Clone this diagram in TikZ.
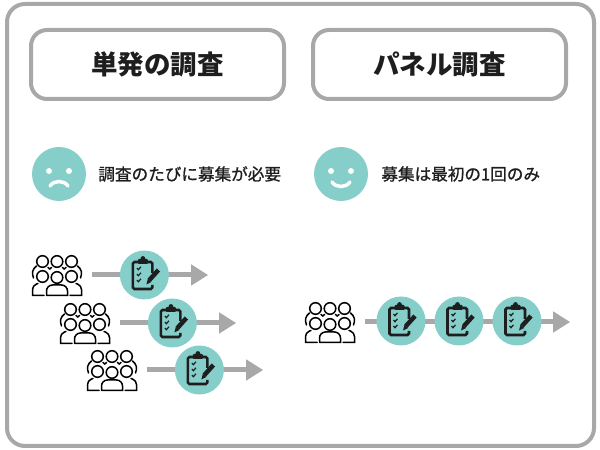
\documentclass[tikz,border=0pt]{standalone}
\usepackage{fontspec}
\setmainfont{Noto Sans CJK JP}
\newfontfamily\captionfont[FakeBold=1]{Noto Sans CJK JP}
\usetikzlibrary{arrows.meta, positioning}

\definecolor{frameGray}{HTML}{A8A8A8}
\definecolor{tealFill}{HTML}{85CEC9}
\definecolor{iconInk}{HTML}{1E1E1E}

\tikzset{
  titlebox/.style={draw=frameGray, line width=4pt, rounded corners=16pt, minimum width=253pt, minimum height=69pt, font=\bfseries\fontsize{26.5}{26.5}\selectfont, text=iconInk},
  face/.style={circle, fill=tealFill, minimum size=54pt, inner sep=0pt},
  caption/.style={font=\captionfont\fontsize{16.6}{16.6}\selectfont, text=iconInk, inner sep=0pt, anchor=west},
  crowd/.style={minimum width=70pt, minimum height=40pt, inner sep=0pt},
  survey/.style={circle, fill=tealFill, minimum size=49pt, inner sep=0pt},
  flow/.style={draw=frameGray, line width=5pt, -{Triangle[length=17pt, width=20pt]}},
  crowdicon/.pic={
    \begin{scope}[line width=1.5pt, draw=black, line cap=round]
      \foreach \x in {-14.5, 0, 14.5} \draw (\x,13.5) circle (5.8);
      \foreach \x/\y in {-14.5/-1.5, 14.5/-1.5, 0/-2.5} \draw (\x,\y) circle (5.8);
      % shoulders
      \draw (-20.5,9) .. controls (-24.5,6) and (-25.5,2) .. (-23.5,-3);
      \draw (20.5,9) .. controls (24.5,6) and (25.5,2) .. (23.5,-3);
      \draw (-9,7.5) -- (-7.2,6) -- (-5.5,7.5);
      \draw (9,7.5) -- (7.2,6) -- (5.5,7.5);
      \draw (-13,-20.5) -- (-24.5,-20.5) [rounded corners=4pt] -- (-24.5,-10.5) -- (-19,-8.5);
      \draw (13,-20.5) -- (24.5,-20.5) [rounded corners=4pt] -- (24.5,-10.5) -- (19,-8.5);
      \draw (-10.5,-20.5) -- (10.5,-20.5) [rounded corners=6pt] -- (10.5,-10) -- (-10.5,-10) -- (-10.5,-20.5);
    \end{scope}
  },
  clipicon/.pic={
    \begin{scope}[draw=iconInk, line width=2.6pt]
      \draw[rounded corners=1.5pt] (8,2) -- (8,13) -- (-11.5,13) -- (-11.5,-14) -- (8,-14) -- (8,-10);
      \fill[iconInk, rounded corners=1pt] (-6.5,11) rectangle (3.5,16);
      \fill[iconInk] (-1.5,16.5) circle (2.4);
      \foreach \y in {7, 1, -5}
        \draw[line width=1.2pt] (-7.5,\y) -- (-6,\y-1.7) -- (-3.5,\y+1.2);
      \draw[line width=4.5pt] (5,-5) -- (14,5);
      \fill[iconInk] (2,-9.5) -- (7,-7) -- (3.5,-3.5) -- cycle;
    \end{scope}
  }
}

\begin{document}
\begin{tikzpicture}[x=1pt, y=1pt]
  \useasboundingbox (0,0) rectangle (600,450);
  \draw[frameGray, line width=4pt, rounded corners=18pt] (7,4) rectangle (594,446);

  % titles
  \node[titlebox] (singleTitle) at (157.5,385.5) {単発の調査};
  \node[titlebox] (panelTitle) at (439.5,385.5) {パネル調査};

  % faces
  \node[face] (sadFace) at (59,276) {};
  \fill[white] (49,279) circle (3) (69,279) circle (3);
  \draw[white, line width=3.5pt, line cap=round] (50,264) .. controls (54,270) and (64,270) .. (68,264);
  \node[caption, right=12pt of sadFace] (sadText) {調査のたびに募集が必要};

  \node[face] (happyFace) at (341,276) {};
  \fill[white] (331,279) circle (3) (351,279) circle (3);
  \draw[white, line width=3.5pt, line cap=round] (332,268) .. controls (336,262) and (346,262) .. (350,268);
  \node[caption, right=13pt of happyFace] (happyText) {募集は最初の1回のみ};

  % single surveys
  \foreach \name/\x/\y in {A/57/175, B/85/127, C/112/80} {
    \node[crowd] (crowd\name) at (\x,\y) {};
    \pic at (crowd\name) {crowdicon};
    \coordinate[right=116pt of crowd\name.east] (end\name);
    \draw[flow] (crowd\name.east) -- (end\name);
    \node[survey, right=27.5pt of crowd\name.east] (survey\name) {};
    \pic at (survey\name) {clipicon};
  }

  % panel survey
  \node[crowd] (crowdP) at (330,128) {};
  \pic at (crowdP) {crowdicon};
  \coordinate[right=205pt of crowdP.east] (endP);
  \draw[flow] (crowdP.east) -- (endP);
  \foreach \name/\x in {D/401, E/459, F/517} {
    \node[survey] (survey\name) at (\x,129) {};
    \pic at (survey\name) {clipicon};
  }
\end{tikzpicture}
\end{document}
